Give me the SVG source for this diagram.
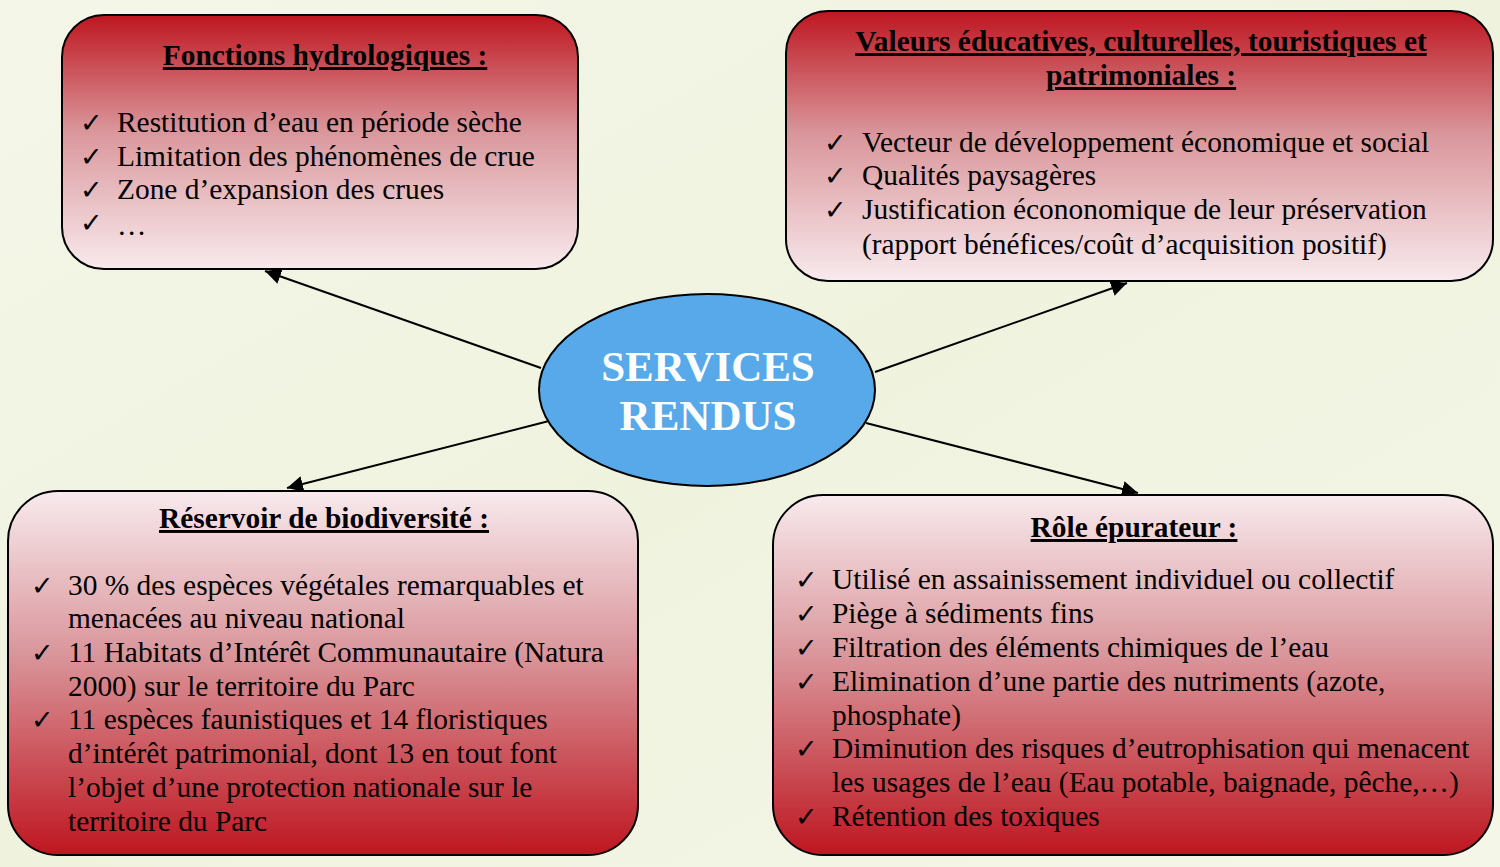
<svg xmlns="http://www.w3.org/2000/svg" width="1500" height="867" viewBox="0 0 1500 867">
<defs>
<linearGradient id="bg" x1="0" y1="0" x2="1" y2="1">
<stop offset="0" stop-color="#f4f6e8"/>
<stop offset="0.5" stop-color="#eff3de"/>
<stop offset="1" stop-color="#f4f6e8"/>
</linearGradient>
<linearGradient id="gDown" x1="0" y1="0" x2="0" y2="1">
<stop offset="0" stop-color="#be1620"/>
<stop offset="0.45" stop-color="#d9959a"/>
<stop offset="1" stop-color="#f8eaed"/>
</linearGradient>
<linearGradient id="gUp" x1="0" y1="1" x2="0" y2="0">
<stop offset="0" stop-color="#be1620"/>
<stop offset="0.55" stop-color="#d9959a"/>
<stop offset="1" stop-color="#f8eaed"/>
</linearGradient>
<marker id="arr" viewBox="0 0 10 10" refX="10" refY="5" markerWidth="16" markerHeight="16" markerUnits="userSpaceOnUse" orient="auto">
<path d="M0,0 L10,5 L0,10 Z" fill="#000"/>
</marker>
</defs>
<style>
.box{stroke:#000;stroke-width:2}
.title{font-family:"Liberation Serif","Times New Roman",serif;font-weight:bold;font-size:29.4px;text-decoration:underline;fill:#000}
.body{font-family:"Liberation Serif","Times New Roman",serif;font-size:29.4px;fill:#000}
.chk{font-family:"DejaVu Sans",sans-serif;font-size:27px;fill:#000}
.conn{stroke:#000;stroke-width:2;fill:none}
.center{font-family:"Liberation Serif","Times New Roman",serif;font-weight:bold;font-size:43px;fill:#fff}
</style>
<rect x="0" y="0" width="1500" height="867" fill="url(#bg)"/>

<g id="connectors">
<line class="conn" x1="541" y1="368" x2="265" y2="271" marker-end="url(#arr)"/>
<line class="conn" x1="875" y1="372" x2="1127" y2="283" marker-end="url(#arr)"/>
<line class="conn" x1="549" y1="421" x2="287" y2="488" marker-end="url(#arr)"/>
<line class="conn" x1="866" y1="423" x2="1138" y2="493" marker-end="url(#arr)"/>
</g>

<g id="hydro">
<rect class="box" x="62" y="15" width="516" height="254" rx="42" fill="url(#gDown)"/>
<text class="title" x="325" y="65" text-anchor="middle">Fonctions hydrologiques :</text>
<text class="chk" x="80" y="132">✓</text>
<text class="chk" x="80" y="166">✓</text>
<text class="chk" x="80" y="199">✓</text>
<text class="chk" x="80" y="232">✓</text>
<text class="body" x="117" y="132">Restitution d’eau en période sèche</text>
<text class="body" x="117" y="166">Limitation des phénomènes de crue</text>
<text class="body" x="117" y="199">Zone d’expansion des crues</text>
<text class="body" x="117" y="235">…</text>
</g>

<g id="valeurs">
<rect class="box" x="786" y="11" width="707" height="270" rx="42" fill="url(#gDown)"/>
<text class="title" x="1141" y="51" text-anchor="middle">Valeurs éducatives, culturelles, touristiques et</text>
<text class="title" x="1141" y="85" text-anchor="middle">patrimoniales :</text>
<text class="chk" x="824" y="152">✓</text>
<text class="chk" x="824" y="185">✓</text>
<text class="chk" x="824" y="219">✓</text>
<text class="body" x="862" y="152">Vecteur de développement économique et social</text>
<text class="body" x="862" y="185">Qualités paysagères</text>
<text class="body" x="862" y="219">Justification écononomique de leur préservation</text>
<text class="body" x="862" y="254">(rapport bénéfices/coût d’acquisition positif)</text>
</g>

<g id="biodiv">
<rect class="box" x="8" y="491" width="630" height="364" rx="50" fill="url(#gUp)"/>
<text class="title" x="324" y="528" text-anchor="middle">Réservoir de biodiversité :</text>
<text class="chk" x="31" y="595">✓</text>
<text class="chk" x="31" y="662">✓</text>
<text class="chk" x="31" y="729">✓</text>
<text class="body" x="68" y="595">30 % des espèces végétales remarquables et</text>
<text class="body" x="68" y="628">menacées au niveau national</text>
<text class="body" x="68" y="662">11 Habitats d’Intérêt Communautaire (Natura</text>
<text class="body" x="68" y="696">2000) sur le territoire du Parc</text>
<text class="body" x="68" y="729">11 espèces faunistiques et 14 floristiques</text>
<text class="body" x="68" y="763">d’intérêt patrimonial, dont 13 en tout font</text>
<text class="body" x="68" y="797">l’objet d’une protection nationale sur le</text>
<text class="body" x="68" y="831">territoire du Parc</text>
</g>

<g id="epurateur">
<rect class="box" x="773" y="495" width="720" height="360" rx="50" fill="url(#gUp)"/>
<text class="title" x="1134" y="537" text-anchor="middle">Rôle épurateur :</text>
<text class="chk" x="795" y="589">✓</text>
<text class="chk" x="795" y="623">✓</text>
<text class="chk" x="795" y="657">✓</text>
<text class="chk" x="795" y="691">✓</text>
<text class="chk" x="795" y="758">✓</text>
<text class="chk" x="795" y="826">✓</text>
<text class="body" x="832" y="589">Utilisé en assainissement individuel ou collectif</text>
<text class="body" x="832" y="623">Piège à sédiments fins</text>
<text class="body" x="832" y="657">Filtration des éléments chimiques de l’eau</text>
<text class="body" x="832" y="691">Elimination d’une partie des nutriments (azote,</text>
<text class="body" x="832" y="725">phosphate)</text>
<text class="body" x="832" y="758">Diminution des risques d’eutrophisation qui menacent</text>
<text class="body" x="832" y="792">les usages de l’eau (Eau potable, baignade, pêche,…)</text>
<text class="body" x="832" y="826">Rétention des toxiques</text>
</g>

<g id="services">
<ellipse cx="707" cy="390" rx="168" ry="96" fill="#58a9e9" stroke="#000" stroke-width="2"/>
<text class="center" x="708" y="381" text-anchor="middle">SERVICES</text>
<text class="center" x="708" y="430" text-anchor="middle">RENDUS</text>
</g>
</svg>
